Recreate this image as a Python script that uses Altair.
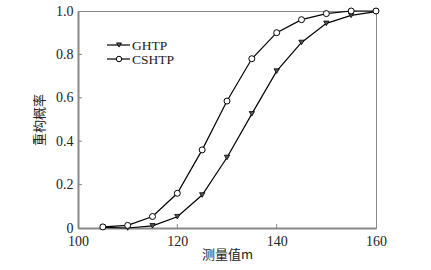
import altair as alt
import pandas as pd

x_vals = [105, 110, 115, 120, 125, 130, 135, 140, 145, 150, 155, 160]
ghtp = [0.003, 0.0, 0.01, 0.052, 0.152, 0.325, 0.526, 0.723, 0.855, 0.943, 0.98, 0.997]
cshtp = [0.005, 0.012, 0.053, 0.16, 0.36, 0.585, 0.78, 0.90, 0.96, 0.988, 1.0, 1.0]
series_names = ["GHTP", "CSHTP"]
x_ticks = [100, 120, 140, 160]
y_ticks = [0, 0.2, 0.4, 0.6, 0.8, 1.0]
x_title = "测量值m"
y_title = "重构概率"

W, H = 298, 217
SERIF = "Liberation Serif"
CJK = "Noto Sans CJK SC"

df_g = pd.DataFrame({"x": x_vals, "y": ghtp, "s": series_names[0]})
df_c = pd.DataFrame({"x": x_vals, "y": cshtp, "s": series_names[1]})

xs = alt.Scale(domain=[x_ticks[0], x_ticks[-1]], nice=False, zero=False)
ys = alt.Scale(domain=[y_ticks[0], y_ticks[-1]], nice=False)

xax = alt.Axis(values=x_ticks, ticks=False, grid=False, domainColor="#888", domainWidth=2,
               labelFont=SERIF, labelFontSize=14, labelColor="#222", labelPadding=6,
               labelFlush=False, title=x_title, titleFont=CJK, titleFontSize=13,
               titleFontWeight="normal", titleColor="#222", titlePadding=0)
yax = alt.Axis(values=y_ticks, ticks=False, grid=False, domainColor="#888", domainWidth=2,
               labelFont=SERIF, labelFontSize=14, labelColor="#222", labelPadding=5,
               labelFlush=False,
               labelExpr="datum.value == 0 ? '0' : format(datum.value, '.1f')",
               title=y_title, titleFont=CJK, titleFontSize=13,
               titleFontWeight="normal", titleColor="#222", titlePadding=9)

def lines(df):
    return alt.Chart(df).mark_line(color="black", strokeWidth=1.2).encode(
        x=alt.X("x:Q", scale=xs, axis=xax), y=alt.Y("y:Q", scale=ys, axis=yax))

g_line = lines(df_g)
c_line = lines(df_c)
g_pts = alt.Chart(df_g).mark_point(shape="triangle-down", filled=True, fill="#555",
                                   stroke="black", strokeWidth=0.8, size=28, opacity=1).encode(
    x=alt.X("x:Q", scale=xs), y=alt.Y("y:Q", scale=ys))
c_pts = alt.Chart(df_c).mark_point(shape="circle", filled=False, fill="white", stroke="black",
                                   strokeWidth=1, size=36, opacity=1).encode(
    x=alt.X("x:Q", scale=xs), y=alt.Y("y:Q", scale=ys))

# inward ticks
ytk = alt.Chart(pd.DataFrame({"v": y_ticks[1:-1]})).mark_rule(color="#888", strokeWidth=1).encode(
    y=alt.Y("v:Q", scale=ys), x=alt.value(0), x2=alt.value(4))
xtk = alt.Chart(pd.DataFrame({"v": x_ticks[1:-1]})).mark_rule(color="#888", strokeWidth=1).encode(
    x=alt.X("v:Q", scale=xs), y=alt.value(H), y2=alt.value(H - 4))

# legend
leg_layers = []
for i, (name, shape) in enumerate(zip(series_names, ["triangle-down", "circle"])):
    yy = 34 + i * 14
    d = pd.DataFrame({"s": [name]})
    base = alt.Chart(d)
    leg_layers.append(base.mark_rule(color="black", strokeWidth=1.2).encode(
        x=alt.value(29), x2=alt.value(52), y=alt.value(yy)))
    if shape == "circle":
        leg_layers.append(base.mark_point(shape="circle", filled=False, fill="white", stroke="black",
                                          strokeWidth=1, size=30, opacity=1).encode(
            x=alt.value(41), y=alt.value(yy)))
    else:
        leg_layers.append(base.mark_point(shape="triangle-down", filled=True, fill="#555",
                                          stroke="black", strokeWidth=0.8, size=24, opacity=1).encode(
            x=alt.value(41), y=alt.value(yy)))
    leg_layers.append(base.mark_text(align="left", baseline="middle", font=SERIF, fontSize=13.5,
                                     color="#222").encode(
        x=alt.value(54), y=alt.value(yy + 1), text="s:N"))

chart = alt.layer(g_line, c_line, g_pts, c_pts, ytk, xtk, *leg_layers).properties(
    width=W, height=H, autosize=alt.AutoSizeParams(type="none"),
    padding={"left": 78, "top": 11, "right": 55, "bottom": 42},
    background="white",
).configure_view(stroke="#888", strokeWidth=1)

chart.save("out.html", embed_options={"renderer": "svg", "actions": False})
